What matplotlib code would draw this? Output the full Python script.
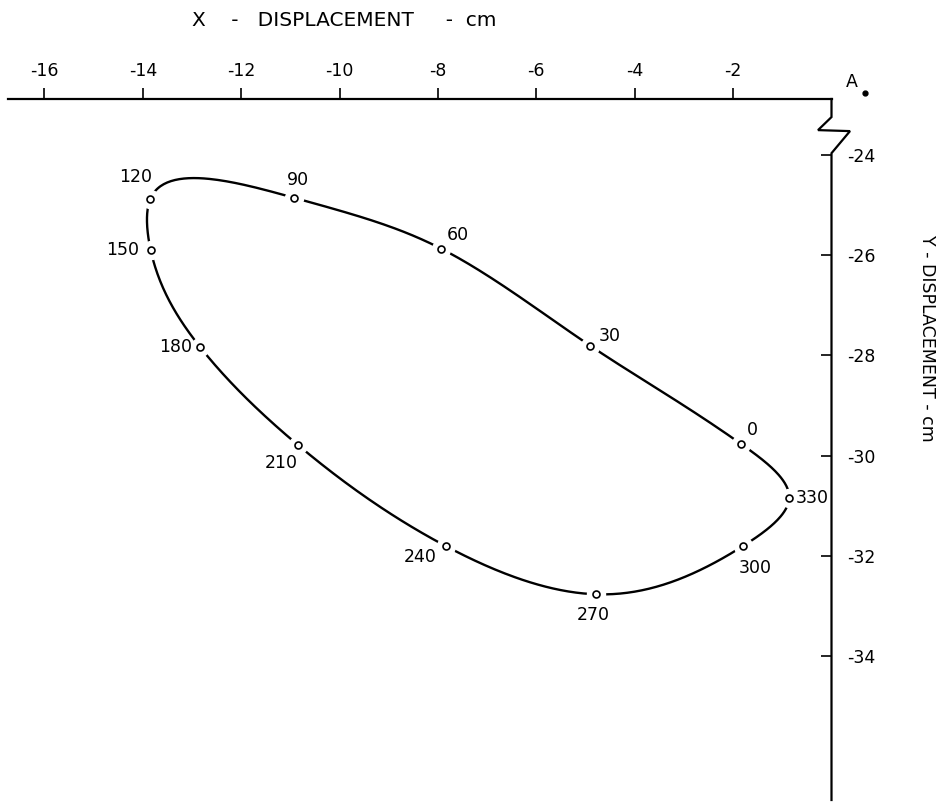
import numpy as np
import matplotlib
matplotlib.use("Agg")
import matplotlib.pyplot as plt

plt.rcParams['font.family'] = ['DejaVu Sans']
plt.rcParams['axes.unicode_minus'] = False

# ---- data ----
angles = [0, 30, 60, 90, 120, 150, 180, 210, 240, 270, 300, 330]
x_disp = [-1.83, -4.90, -7.94, -10.92, -13.85, -13.84, -12.83, -10.84, -7.84, -4.79, -1.80, -0.86]
y_disp = [-29.77, -27.81, -25.87, -24.86, -24.89, -25.90, -27.84, -29.79, -31.80, -32.76, -31.80, -30.84]
x_ticks = [-16, -14, -12, -10, -8, -6, -4, -2]
y_ticks = [-24, -26, -28, -30, -32, -34]

# label offsets (pixels) for each angle label: (dx, dy, ha)
label_offsets = {
    0: (11, 14, 'center'), 30: (19, 10, 'center'), 60: (17, 14, 'center'),
    90: (4, 18, 'center'), 120: (-15, 22, 'center'), 150: (-12, 0, 'right'),
    180: (-8, 0, 'right'), 210: (-17, -18, 'center'), 240: (-9, -11, 'right'),
    270: (-3, -21, 'center'), 300: (12, -22, 'center'), 330: (6, 0, 'left'),
}


def periodic_spline(xs, ys, n=60):
    xs = np.asarray(xs, float)
    ys = np.asarray(ys, float)
    m = len(xs)
    xc = np.append(xs, xs[0])
    yc = np.append(ys, ys[0])
    d = np.hypot(np.diff(xc), np.diff(yc))
    t = np.concatenate([[0], np.cumsum(d)])
    h = d

    def second_derivs(v):
        A = np.zeros((m, m))
        b = np.zeros(m)
        for i in range(m):
            hp = h[i - 1]
            hi = h[i]
            A[i, (i - 1) % m] += hp
            A[i, i] += 2 * (hp + hi)
            A[i, (i + 1) % m] += hi
            b[i] = 6 * ((v[(i + 1) % m] - v[i]) / hi - (v[i] - v[(i - 1) % m]) / hp)
        return np.linalg.solve(A, b)

    out = []
    for v in (xs, ys):
        M = second_derivs(v)
        M = np.append(M, M[0])
        vc = np.append(v, v[0])
        seg = []
        for i in range(m):
            tt = np.linspace(t[i], t[i + 1], n, endpoint=False)
            hi = h[i]
            a = t[i + 1] - tt
            bb = tt - t[i]
            s = (M[i] * a ** 3 / (6 * hi) + M[i + 1] * bb ** 3 / (6 * hi)
                 + (vc[i] / hi - M[i] * hi / 6) * a + (vc[i + 1] / hi - M[i + 1] * hi / 6) * bb)
            seg.append(s)
        out.append(np.concatenate(seg + [[v[0]]]))
    return out[0], out[1]


W, H = 943, 806
fig = plt.figure(figsize=(W / 100, H / 100), dpi=100)
xmin, xmax = -16.74, 0.0
ymin, ymax = -36.86, -22.89
ax = fig.add_axes([8 / W, (H - 800) / H, (831.5 - 8) / W, (800 - 99) / H])
ax.set_xlim(xmin, xmax)
ax.set_ylim(ymin, ymax)

for s in ['left', 'bottom', 'right']:
    ax.spines[s].set_visible(False)
ax.spines['top'].set_linewidth(1.6)

ax.xaxis.set_ticks_position('top')
ax.set_xticks(x_ticks)
ax.set_xticklabels([str(v) for v in x_ticks])
ax.tick_params(axis='x', direction='out', length=8, width=1.2, pad=6, labelsize=12.5)

ax.yaxis.set_ticks_position('right')
ax.set_yticks(y_ticks)
ax.set_yticklabels([str(v) for v in y_ticks])
ax.tick_params(axis='y', direction='in', length=8, width=1.2, pad=11, labelsize=12.5)

# right axis line with break (zigzag)
zx = [0, 0, -0.274, 0.376, 0, 0]
zy = [ymax, -23.25, -23.51, -23.53, -23.97, ymin]
ax.plot(zx, zy, color='black', lw=1.6, clip_on=False, solid_joinstyle='miter')

# curve
cx, cy = periodic_spline(x_disp, y_disp)
ax.plot(cx, cy, color='black', lw=1.7, zorder=2)
ax.plot(x_disp, y_disp, 'o', ms=13, mfc='white', mec='white', zorder=3)
ax.plot(x_disp, y_disp, 'o', ms=5, mfc='white', mec='black', mew=1.2, zorder=4)

for a, x, y in zip(angles, x_disp, y_disp):
    dx, dy, ha = label_offsets[a]
    ax.annotate(str(a), (x, y), xytext=(dx * 0.72, dy * 0.72), textcoords='offset points',
                ha=ha, va='center', fontsize=12.5, zorder=5)

# point A
ax.text(0.42, -22.55, 'A', fontsize=12.5, ha='center', va='center', clip_on=False)
ax.plot([0.69], [-22.77], 'o', ms=3.5, color='black', clip_on=False)

fig.text(344 / W, 1 - 20 / H, 'X    -   DISPLACEMENT     -  cm', ha='center', va='center', fontsize=14.5)
fig.text(927 / W, 1 - 338 / H, 'Y - DISPLACEMENT - cm', ha='center', va='center',
         fontsize=12.5, rotation=-90)

fig.savefig('out.png', dpi=100)
